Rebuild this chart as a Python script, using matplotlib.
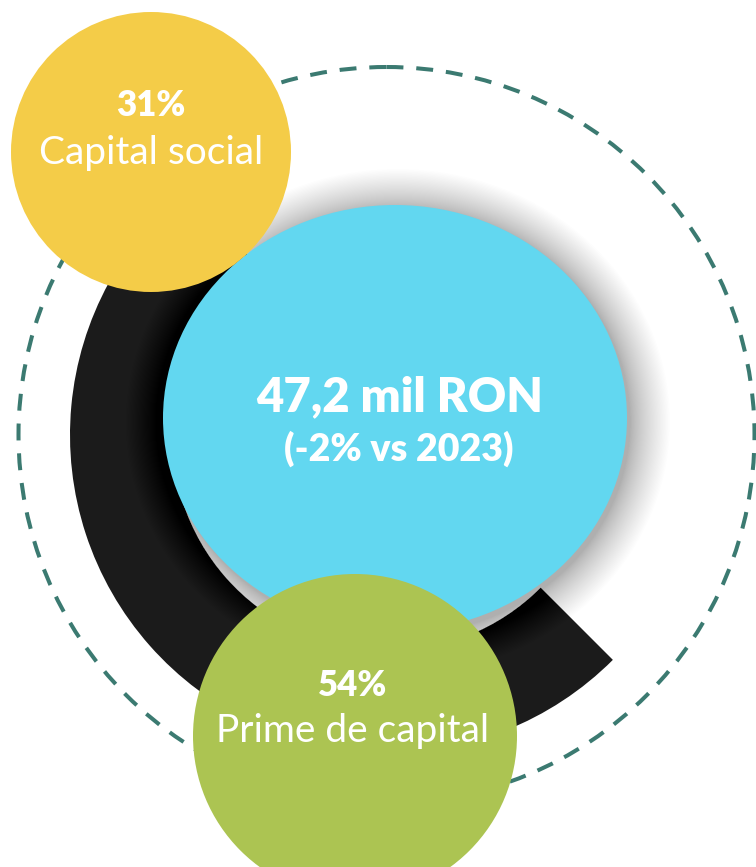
import matplotlib
matplotlib.use("Agg")
import matplotlib.pyplot as plt
from matplotlib.patches import Circle, Ellipse, Wedge

# ---- data ----
segment_labels = ["Capital social", "Prime de capital"]
segment_shares = [31, 54]
total_label = "47,2 mil RON"
change_label = "(-2% vs 2023)"

W, H = 756, 867
fig = plt.figure(figsize=(W / 100, H / 100), dpi=100)
ax = fig.add_axes([0, 0, 1, 1])
ax.set_xlim(0, W)
ax.set_ylim(H, 0)
ax.set_aspect("equal")
ax.axis("off")

FONT = ["Lato", "DejaVu Sans"]

# dashed outer circle
ax.add_patch(Circle((386.5, 435), 368, fill=False, edgecolor="#3b7a71",
                    linewidth=2.9, linestyle=(0, (4.2, 3.2)), zorder=1))

# black arc
ax.add_patch(Wedge((388, 435), 318, 45, 232, width=102,
                   facecolor="#1b1b1b", edgecolor="none", zorder=2))

# soft shadow around blue circle
bc = (395, 418)
bw, bh = 464, 426
n = 40
for i in range(n):
    ext = 40 * (1 - i / n) ** 1.3
    ax.add_patch(Ellipse((bc[0] + 3, bc[1] + 4), bw + 2 * ext, bh + 2 * ext,
                         facecolor="black", edgecolor="none", alpha=0.008,
                         zorder=3))

ax.add_patch(Ellipse(bc, bw, bh, facecolor="#62d7f0", edgecolor="none", zorder=4))

# yellow circle
ax.add_patch(Circle((151, 152), 140, facecolor="#f4cc48", edgecolor="none", zorder=5))
# green circle
ax.add_patch(Circle((355, 736), 162, facecolor="#acc452", edgecolor="none", zorder=5))

# texts
ax.text(400, 397, total_label, ha="center", va="center", color="white",
        fontsize=34, fontweight="heavy", family=FONT, zorder=6)
ax.text(399, 449, change_label, ha="center", va="center", color="white",
        fontsize=27, fontweight="heavy", family=FONT, zorder=6)

centers = [(151, 106, 153), (353, 685, 731)]
for (cx, y1, y2), lab, sh in zip(centers, segment_labels, segment_shares):
    ax.text(cx, y1, f"{sh}%", ha="center", va="center", color="white",
            fontsize=25, fontweight="heavy", family=FONT, zorder=6)
    ax.text(cx, y2, lab, ha="center", va="center", color="white",
            fontsize=28, fontweight="normal", family=FONT, zorder=6)

fig.savefig("out.png", dpi=100, facecolor="white")
